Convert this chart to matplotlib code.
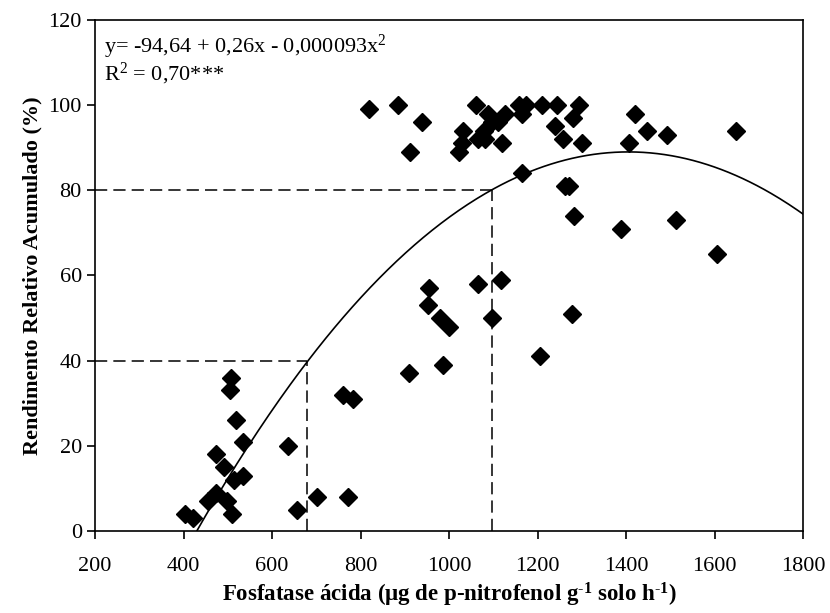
import numpy as np
import matplotlib
matplotlib.use("Agg")
import matplotlib.pyplot as plt

plt.rcParams['font.family'] = ['Liberation Serif', 'DejaVu Serif']
plt.rcParams['mathtext.fontset'] = 'custom'
plt.rcParams['mathtext.rm'] = 'Liberation Serif'
plt.rcParams['mathtext.bf'] = 'Liberation Serif:bold'
plt.rcParams['mathtext.default'] = 'regular'

# fosfatase acida (x) and rendimento relativo acumulado (y)
fosfatase = [403, 422, 455, 473, 499, 509, 473, 491, 513, 535, 535, 518, 506, 507,
             635, 657, 701, 771, 760, 782,
             910, 955, 953, 980, 1001, 987, 1065, 1117, 1098, 1277, 1206,
             1388, 1512, 1605,
             820, 885, 938, 912,
             1061, 1089, 1032, 1029, 1023, 1078, 1066, 1081, 1096, 1111, 1126, 1119,
             1157, 1175, 1164, 1209, 1243, 1294, 1240, 1281, 1258, 1300,
             1164, 1262, 1270, 1283,
             1420, 1447, 1407, 1493, 1648]
rendimento = [4, 3, 7, 9, 7, 4, 18, 15, 12, 13, 21, 26, 33, 36,
              20, 5, 8, 8, 32, 31,
              37, 57, 53, 50, 48, 39, 58, 59, 50, 51, 41,
              71, 73, 65,
              99, 100, 96, 89,
              100, 98, 94, 91, 89, 94, 92, 92, 96, 96, 98, 91,
              100, 100, 98, 100, 100, 100, 95, 97, 92, 91,
              84, 81, 81, 74,
              98, 94, 91, 93, 94]

# quadratic curve as drawn (close to the published equation)
coef = [-95.8, 0.26305, -0.0000936]
eq_text = "y= -94,64 + 0,26x - 0,000093x$^2$\nR$^2$ = 0,70***"

# reference levels (40 % and 80 %)
ref_x = [680, 1097]
ref_y = [40, 80]

fig, ax = plt.subplots(figsize=(8.3, 6.13), dpi=100)
fig.subplots_adjust(left=0.1145, right=0.9675, bottom=0.1338, top=0.9674)

xs = np.linspace(200, 1800, 400)
ys = coef[0] + coef[1] * xs + coef[2] * xs ** 2
ax.plot(xs, ys, color='black', lw=1.2)

for rx, ry in zip(ref_x, ref_y):
    ax.plot([200, rx], [ry, ry], color='black', lw=1.1, dashes=(8, 4))
    ax.plot([rx, rx], [0, ry], color='black', lw=1.1, dashes=(8, 4))

ax.plot(fosfatase, rendimento, 'D', color='black', ms=9.5, mec='black')

ax.set_xlim(200, 1800)
ax.set_ylim(0, 120)
ax.set_xticks(range(200, 1801, 200))
ax.set_yticks(range(0, 121, 20))
ax.tick_params(direction='out', length=6, width=1.2, labelsize=16, top=False, right=False)
ax.tick_params(axis='x', pad=13)
for s in ax.spines.values():
    s.set_linewidth(1.2)

ax.text(0.012, 0.975, eq_text, transform=ax.transAxes, ha='left', va='top',
        fontsize=16, linespacing=1.0)

ax.set_xlabel(r"Fosfatase ácida (µg de p-nitrofenol g$^{\text{-}1}$ solo h$^{\text{-}1}$)",
              fontsize=16.5, fontweight='bold', labelpad=3)
ax.set_ylabel("Rendimento Relativo Acumulado (%)", fontsize=16, fontweight='bold')

fig.savefig("out.png", dpi=100)
